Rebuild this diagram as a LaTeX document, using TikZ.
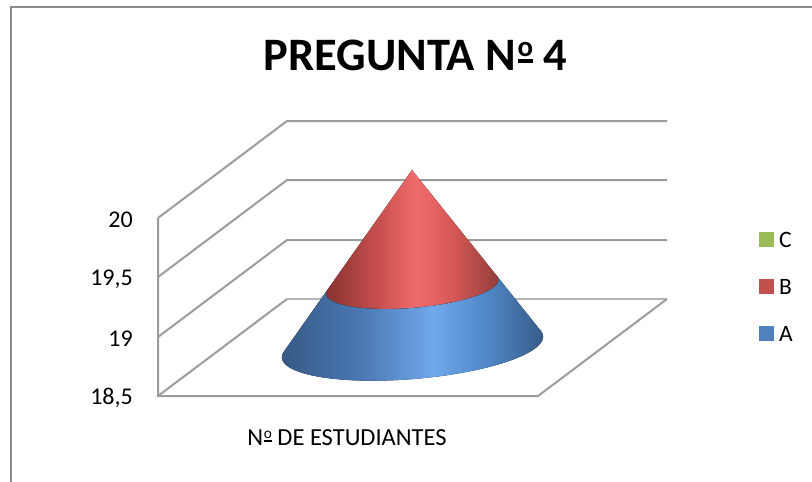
\documentclass[tikz,border=0pt]{standalone}
\usepackage{graphicx}
\usepackage{fontspec}
\setmainfont{Carlito}
\newcommand{\ordmasc}{\kern0.03em\raisebox{0.3em}{\scalebox{0.62}{\vtop{\hbox{o}\kern0.1em\hrule height 0.14em}}}}
\definecolor{frameg}{HTML}{8C8C8C}
\definecolor{gridg}{HTML}{9C9C9C}
\definecolor{floorg}{HTML}{B4B4B4}
\definecolor{serA}{HTML}{4F81BD}
\definecolor{serB}{HTML}{C0504D}
\definecolor{serC}{HTML}{9BBB59}
\definecolor{bA}{HTML}{375A87}
\definecolor{bB}{HTML}{4A78B2}
\definecolor{bC}{HTML}{70A8EC}
\definecolor{bD}{HTML}{5088C8}
\definecolor{bE}{HTML}{385C89}
\definecolor{rA}{HTML}{8A3331}
\definecolor{rB}{HTML}{C64F4D}
\definecolor{rC}{HTML}{F16C6C}
\definecolor{rD}{HTML}{D45755}
\definecolor{rE}{HTML}{923E3C}
\pgfdeclarehorizontalshading{blueshade}{100bp}{color(0bp)=(bA); color(25bp)=(bA); color(40bp)=(bB); color(54bp)=(bC); color(64bp)=(bD); color(75bp)=(bE); color(100bp)=(bE)}
\pgfdeclarehorizontalshading{redshade}{100bp}{color(0bp)=(rA); color(25bp)=(rA); color(40bp)=(rB); color(51bp)=(rC); color(62bp)=(rD); color(75bp)=(rE); color(100bp)=(rE)}
\tikzset{
  gridline/.style={draw=gridg, line width=2pt},
  floorline/.style={draw=floorg, line width=1.6pt},
  ticklbl/.style={anchor=east, font=\fontsize{24}{24}\selectfont, inner sep=0pt},
  legsq/.style={fill=#1, minimum size=15pt, inner sep=0pt, draw=none},
  leglbl/.style={anchor=west, font=\fontsize{23.5}{23.5}\selectfont, inner sep=0pt},
}
\begin{document}
\begin{tikzpicture}[x=1pt,y=-1pt]
\useasboundingbox (0,0) rectangle (812,482);
\fill[white] (0,0) rectangle (812,482);
% outer frame (top and left)
\draw[draw=frameg, line width=2.5pt] (11,482) -- (11,7) -- (812,7);
% title
\node[font=\bfseries\fontsize{46.5}{46.5}\selectfont, inner sep=0pt] (title) at (415.5,55) {PREGUNTA N\ordmasc\ 4};
% walls and floor
\coordinate (f0) at (158,396); \coordinate (b0) at (287,299);
\coordinate (f1) at (158,337); \coordinate (b1) at (287,240);
\coordinate (f2) at (158,277); \coordinate (b2) at (287,180);
\coordinate (f3) at (158,218); \coordinate (b3) at (287,121);
\coordinate (e0) at (667,299); \coordinate (e1) at (667,240);
\coordinate (e2) at (667,180); \coordinate (e3) at (667,121);
\coordinate (fr) at (538,396);
\draw[floorline] (b0) -- (e0);
\foreach \i in {1,2,3} \draw[gridline] (f\i) -- (b\i) -- (e\i);
\draw[gridline] (f0) -- (b0);
\draw[gridline] (f3) -- (f0) -- (fr) -- (e0);
% tick labels
\node[ticklbl] (t20) at (133,220) {20};
\node[ticklbl] (t195) at (133,279) {19,5};
\node[ticklbl] (t19) at (133,339) {19};
\node[ticklbl] (t185) at (133,398) {18,5};
% axis title
\node[font=\fontsize{24.5}{24.5}\selectfont, inner sep=0pt] (xlab) at (347,438) {N\ordmasc\ DE ESTUDIANTES};
% cone
\pgfmathsetmacro{\ca}{cos(4.8)}
\pgfmathsetmacro{\sa}{sin(4.8)}
\def\apx{412}\def\apy{170}
\pgfmathsetmacro{\sx}{412+0.66*0.5}
\pgfmathsetmacro{\sy}{170+0.66*177}
% red top
\fill[shading=redshade] (\apx,\apy) --
  plot[domain=191.6:-9.33, samples=80] ({\sx + 86.5*cos(\x)*\ca + 21.1*sin(\x)*\sa}, {\sy - 86.5*cos(\x)*\sa + 21.1*sin(\x)*\ca}) -- cycle;
% blue bottom
\fill[shading=blueshade]
  plot[domain=-9.33:191.6, samples=100] ({412.5 + 131*cos(\x)*\ca + 32*sin(\x)*\sa}, {347 - 131*cos(\x)*\sa + 32*sin(\x)*\ca}) --
  plot[domain=191.6:-9.33, samples=80] ({\sx + 86.5*cos(\x)*\ca + 21.1*sin(\x)*\sa}, {\sy - 86.5*cos(\x)*\sa + 21.1*sin(\x)*\ca}) -- cycle;
% legend
\node[legsq=serC] (lc) at (766.5,239.5) {};
\node[legsq=serB] (lb) at (766.5,286) {};
\node[legsq=serA] (la) at (766.5,333) {};
\node[leglbl] (lct) at (779,240) {C};
\node[leglbl] (lbt) at (779,286.5) {B};
\node[leglbl] (lat) at (779,333.5) {A};
\end{tikzpicture}
\end{document}
